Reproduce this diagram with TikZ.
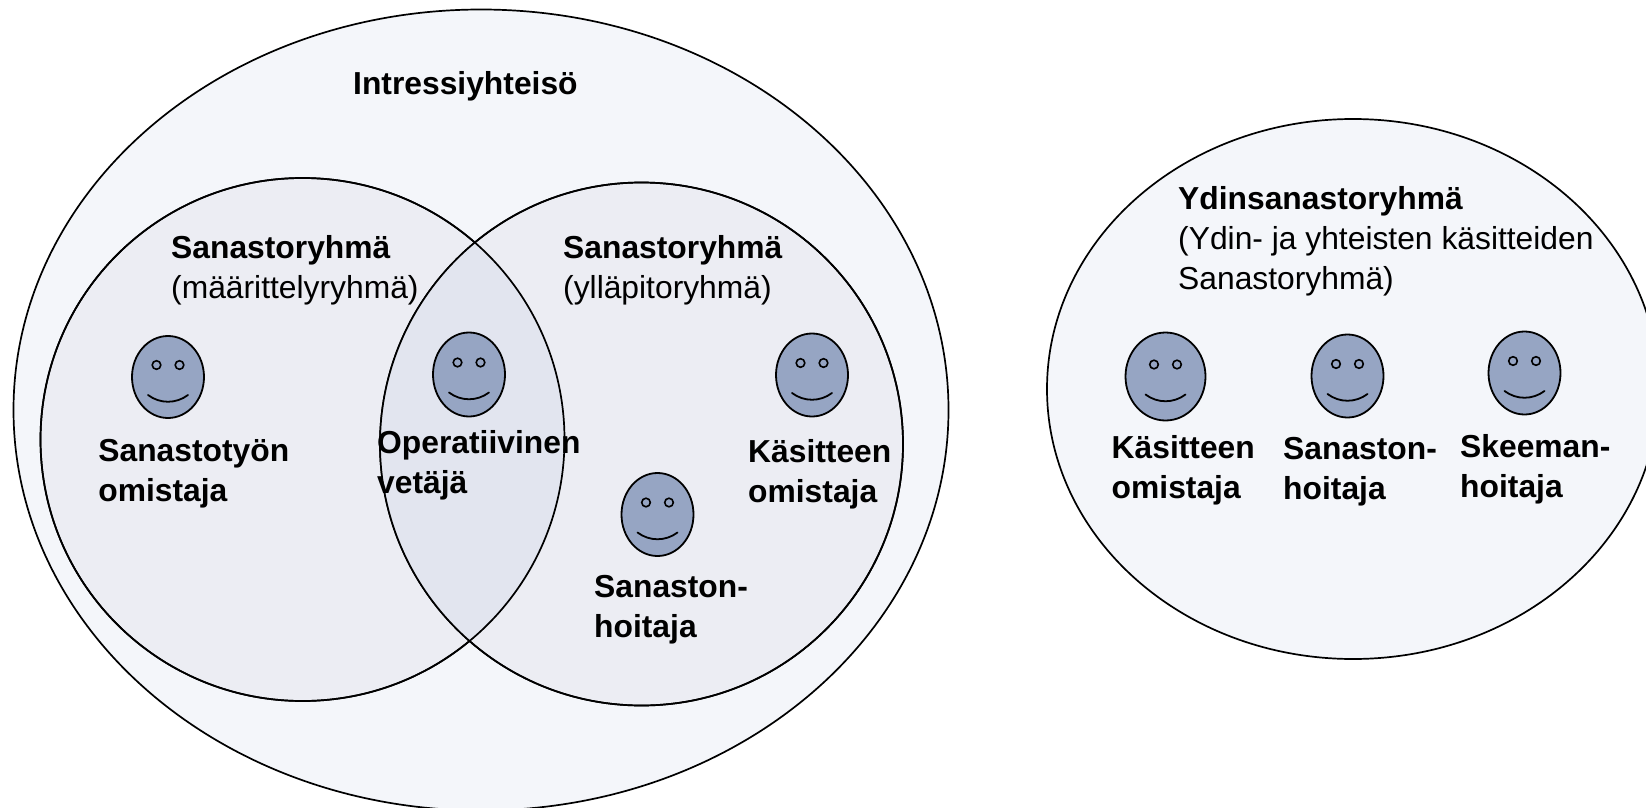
\documentclass[tikz,border=0pt]{standalone}
\usepackage{fontspec}
\setmainfont{Liberation Sans}
\usetikzlibrary{shapes.geometric}
\definecolor{outerfill}{HTML}{F4F6FA}
\definecolor{groupfill}{HTML}{ECEDF3}
\definecolor{overlapfill}{HTML}{E2E5EF}
\definecolor{facefill}{HTML}{96A5C3}
\tikzset{
  blob/.style={ellipse,draw=black,line width=1.7pt,inner sep=0pt},
  label/.style={anchor=north west,inner sep=0pt,align=left,text=black,
    font=\fontsize{31.8}{40}\selectfont},
  pics/smiley/.style n args={2}{code={
    \draw[fill=facefill,line width=1.8pt] (0,0) ellipse [x radius=#1,y radius=#2];
    \draw[line width=1.6pt] (-11.5,-12) circle [radius=4.3];
    \draw[line width=1.6pt] (11.5,-12) circle [radius=4.3];
    \draw[line width=1.8pt,line cap=round] (-20,18) .. controls (-8,27) and (8,27) .. (20,18);
  }}
}
\begin{document}
\begin{tikzpicture}[x=1pt,y=-1pt]
\useasboundingbox (0,0) rectangle (1646,808);
\fill[white] (0,0) rectangle (1646,808);
\node[blob,fill=outerfill,minimum width=935pt,minimum height=801pt] (outer) at (481,410) {};
\node[blob,fill=groupfill,minimum width=524pt,minimum height=523pt] (left) at (302.5,439.5) {};
\node[blob,fill=groupfill,minimum width=523pt,minimum height=523pt] (right) at (641.5,444) {};
\begin{scope}
  \clip (302.5,439.5) ellipse [x radius=262,y radius=261.5];
  \fill[overlapfill] (641.5,444) circle [radius=261.5];
\end{scope}
\draw[line width=1.7pt] (302.5,439.5) ellipse [x radius=262,y radius=261.5];
\draw[line width=1.7pt] (641.5,444) circle [radius=261.5];
\node[blob,fill=outerfill,minimum width=612pt,minimum height=540pt] (core) at (1353,389) {};

\pic at (168,377) {smiley={36}{41}};
\pic at (469,374.5) {smiley={36}{42}};
\pic at (812,375) {smiley={36}{41.5}};
\pic at (657.5,514.5) {smiley={36}{41.5}};
\pic at (1165.5,376.5) {smiley={40}{44}};
\pic at (1347.5,376) {smiley={36}{41.5}};
\pic at (1524.5,373) {smiley={36}{41.5}};

\node[label] (t1) at (353,71) {\textbf{Intressiyhteisö}};
\node[label] (t2) at (171,235) {\textbf{Sanastoryhmä}\\(määrittelyryhmä)};
\node[label] (t3) at (563,235) {\textbf{Sanastoryhmä}\\(ylläpitoryhmä)};
\node[label] (t4) at (98.2,439) {\textbf{Sanastotyön}\\\textbf{omistaja}};
\node[label] (t5) at (377,430) {\textbf{Operatiivinen}\\\textbf{vetäjä}};
\node[label] (t6) at (748,439) {\textbf{Käsitteen}\\\textbf{omistaja}};
\node[label] (t7) at (594,575) {\textbf{Sanaston-}\\\textbf{hoitaja}};
\node[label] (t8) at (1178,186) {\textbf{Ydinsanastoryhmä}\\(Ydin- ja yhteisten käsitteiden\\Sanastoryhmä)};
\node[label] (t9) at (1111.5,435) {\textbf{Käsitteen}\\\textbf{omistaja}};
\node[label] (t10) at (1283,437) {\textbf{Sanaston-}\\\textbf{hoitaja}};
\node[label] (t11) at (1460,434) {\textbf{Skeeman-}\\\textbf{hoitaja}};
\end{tikzpicture}
\end{document}
